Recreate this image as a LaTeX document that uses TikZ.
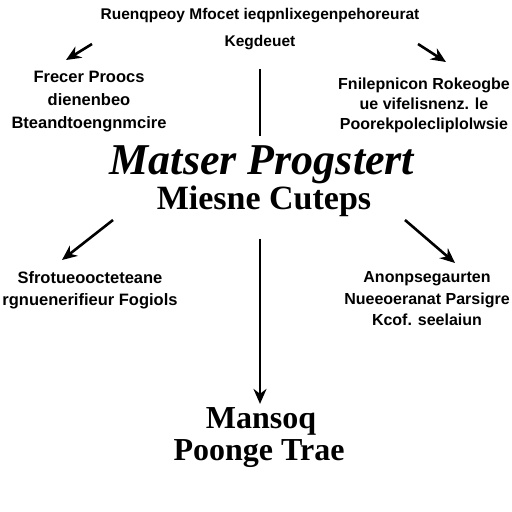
\documentclass[tikz,border=0pt]{standalone}
\usepackage{fontspec}
\setmainfont{Liberation Serif}
\newfontfamily\labelfont{Liberation Sans}
\usetikzlibrary{arrows.meta, positioning}

\begin{document}
\begin{tikzpicture}[
        x=1pt, y=-1pt,
        >=Stealth,
        small/.style={font=\labelfont\bfseries\fontsize{16.5}{22}\selectfont, align=center, inner sep=0pt},
        big/.style={font=\bfseries\itshape\fontsize{44}{46}\selectfont, inner sep=0pt},
        mid/.style={font=\bfseries\fontsize{32}{34}\selectfont, inner sep=0pt},
        link/.style={line width=2.6pt},
        arrow/.style={link, -{Stealth[length=15pt, width=13pt]}}
      ]
      \useasboundingbox (0,0) rectangle (512,512);

      % Header text
      \node [small, font=\labelfont\bfseries\fontsize{15.5}{27}\selectfont] (head) at (260,29) {Ruenqpeoy Mfocet ieqpnlixegenpehoreurat\\Kegdeuet};

      % Center block
      \node [big] (title) at (262,165) {Matser Progstert};
      \node [mid, font=\bfseries\fontsize{34}{36}\selectfont] (sub) at (264,201) {Miesne Cuteps};

      % Side blocks
      \node [small, font=\labelfont\bfseries\fontsize{16.5}{23}\selectfont] (upleft) at (89,102) {Frecer Proocs\\dienenbeo\\Bteandtoengnmcire};
      \node [small, font=\labelfont\bfseries\fontsize{16}{20}\selectfont] (upright) at (424,105) {Fnilepnicon Rokeogbe\\ue vifelisnenz. le\\Poorekpolecliplolwsie};
      \node [small] (lowleft) at (90,290) {Sfrotueoocteteane\\rgnuenerifieur Fogiols};
      \node [small, font=\labelfont\bfseries\fontsize{16}{21.5}\selectfont] (lowright) at (427,299) {Anonpsegaurten\\Nueeoeranat Parsigre\\Kcof. seelaiun};

      % Result
      \node [mid] (result) at (261,421) {Mansoq};
      \node [mid] (result2) at (259,454) {Poonge Trae};

      % Arrow ends
      \coordinate (tl1) at (92,44);
      \coordinate (tl2) at (66,60);
      \coordinate (tr1) at (418,44);
      \coordinate (tr2) at (446,62);
      \coordinate (bl1) at (113,220);
      \coordinate (bl2) at (62,260);
      \coordinate (br1) at (405,220);
      \coordinate (br2) at (455,263);

      \draw[arrow] (tl1) -- (tl2);
      \draw[arrow] (tr1) -- (tr2);
      \draw[arrow] (bl1) -- (bl2);
      \draw[arrow] (br1) -- (br2);

      % Vertical links
      \draw[link, shorten <=19pt, shorten >=10pt] (head.south) -- (head.south |- title.north);
      \draw[arrow, shorten <=22pt, shorten >=3pt] (head.south |- sub.south) -- (head.south |- result.north);

    \end{tikzpicture}
\end{document}
